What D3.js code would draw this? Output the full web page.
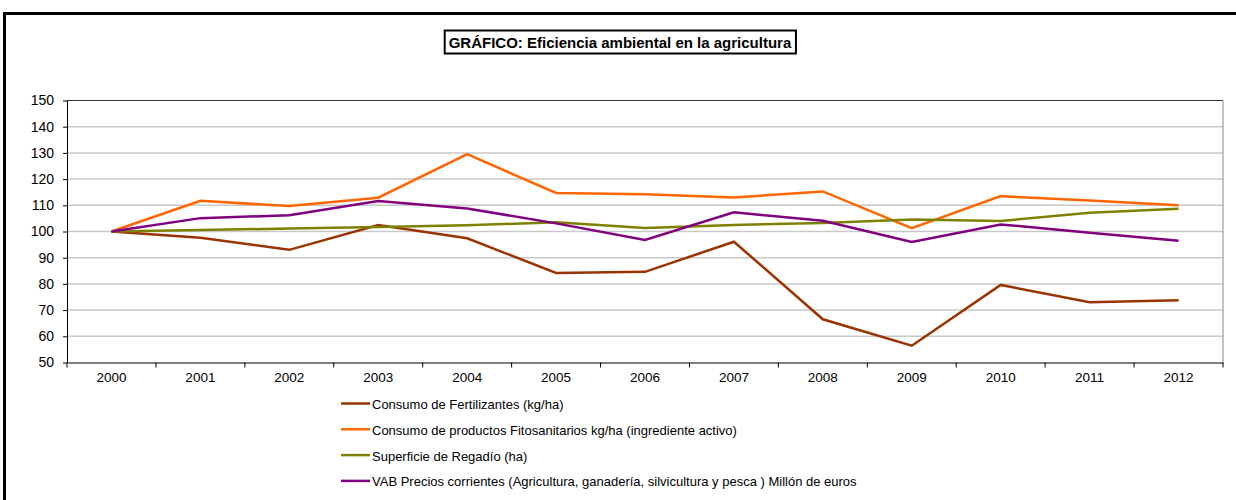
<!DOCTYPE html>
<html><head><meta charset="utf-8">
<script src="https://cdn.jsdelivr.net/npm/d3@7"></script>
<style>body{margin:0;background:#fff;} svg{display:block;font-family:"Liberation Sans",Arial,sans-serif;}</style>
</head><body>
<svg id="c" width="1236" height="500"></svg>
<script>
const years = ["2000","2001","2002","2003","2004","2005","2006","2007","2008","2009","2010","2011","2012"];
const fertilizantes = [100,97.6,93.0,102.5,97.4,84.2,84.6,96.1,66.5,56.4,79.6,73.0,73.8];
const fitosanitarios = [100,111.7,109.7,112.9,129.5,114.7,114.2,113.0,115.3,101.3,113.5,111.8,110.0];
const regadio = [100,100.6,101.1,101.7,102.4,103.5,101.3,102.5,103.2,104.6,104.0,107.2,108.7];
const vab = [100,105.1,106.2,111.6,108.8,103.1,96.8,107.3,104.1,96.0,102.7,99.5,96.5];
const seriesNames = [
  "Consumo de Fertilizantes (kg/ha)",
  "Consumo de productos Fitosanitarios kg/ha (ingrediente activo)",
  "Superficie de Regadío (ha)",
  "VAB Precios corrientes (Agricultura, ganadería, silvicultura y pesca ) Millón de euros"
];
const yTicks = [50,60,70,80,90,100,110,120,130,140,150];
const titleText = "GRÁFICO: Eficiencia ambiental en la agricultura";

const series = [
  {name: seriesNames[0], values: fertilizantes, color: "#993300"},
  {name: seriesNames[1], values: fitosanitarios, color: "#FF6600"},
  {name: seriesNames[2], values: regadio, color: "#808000"},
  {name: seriesNames[3], values: vab, color: "#800080"}
];

const svg = d3.select("#c");
// outer frame
svg.append("path").attr("d","M4.5,500 L4.5,13.5 L1240,13.5").attr("fill","none").attr("stroke","#000").attr("stroke-width",3);

const L = 67, R = 1223, T = 100.5, B = 362.5;
const x = d3.scaleBand().domain(years).range([L, R]);
const y = d3.scaleLinear().domain([50,150]).range([B, T]);

// gridlines
svg.append("g").selectAll("line").data(yTicks.filter(d=>d>50 && d<150)).join("line")
  .attr("x1", L).attr("x2", R).attr("y1", d=>y(d)).attr("y2", d=>y(d))
  .attr("stroke","#c8c8c8").attr("stroke-width",1.5);
// plot border top & right
svg.append("line").attr("x1",L).attr("x2",R).attr("y1",T).attr("y2",T).attr("stroke","#333").attr("stroke-width",1);
svg.append("line").attr("x1",R).attr("x2",R).attr("y1",T).attr("y2",B).attr("stroke","#888").attr("stroke-width",1);

// y axis
const yAxis = d3.axisLeft(y).tickValues(yTicks).tickSize(4).tickPadding(9).tickSizeOuter(0);
const gy = svg.append("g").attr("transform",`translate(${L},0)`).call(yAxis);
gy.select(".domain").attr("stroke","#000");
gy.selectAll(".tick line").attr("stroke","#000");
gy.selectAll("text").attr("font-size",14).attr("fill","#000").attr("font-family","Liberation Sans, Arial, sans-serif");

// x axis
const xAxis = d3.axisBottom(x).tickSize(0).tickPadding(10);
const gx = svg.append("g").attr("transform",`translate(0,${B})`).call(xAxis);
gx.select(".domain").attr("stroke","#000");
gx.selectAll("text").attr("font-size",13.5).attr("fill","#000").attr("font-family","Liberation Sans, Arial, sans-serif");
// tick marks between categories
const bounds = years.map(d=>x(d)).concat([R]);
svg.append("g").selectAll("line").data(bounds).join("line")
  .attr("x1",d=>d).attr("x2",d=>d).attr("y1",B).attr("y2",B+5).attr("stroke","#000");

// lines
const line = d3.line().x((d,i)=>x(years[i])+x.bandwidth()/2).y(d=>y(d));
svg.append("g").selectAll("path").data(series).join("path")
  .attr("d", d=>line(d.values)).attr("fill","none").attr("stroke",d=>d.color)
  .attr("stroke-width",2.5).attr("stroke-linejoin","miter");

// legend
const lg = svg.append("g");
series.forEach((s,i)=>{
  const yy = 403.5 + i*25.8;
  lg.append("line").attr("x1",341).attr("x2",370).attr("y1",yy).attr("y2",yy).attr("stroke",s.color).attr("stroke-width",2.5);
  lg.append("text").attr("x",372).attr("y",yy+5.5).attr("font-size",13).attr("fill","#000").text(s.name);
});

// title
const tg = svg.append("g");
const tt = tg.append("text").attr("x",620).attr("y",48).attr("text-anchor","middle")
  .attr("font-size",15).attr("font-weight","bold").attr("fill","#000").text(titleText);
const bb = tt.node().getBBox();
tg.insert("rect","text").attr("x",bb.x-4).attr("y",30.5).attr("width",bb.width+8).attr("height",23)
  .attr("fill","#fff").attr("stroke","#000").attr("stroke-width",2);
</script>
</body></html>
